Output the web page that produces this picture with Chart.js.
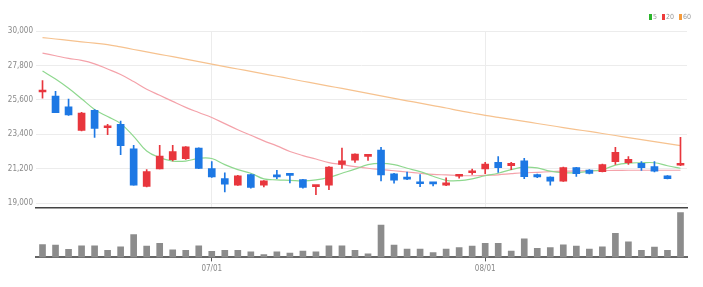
<!DOCTYPE html>
<html>
<head>
<meta charset="utf-8">
<script src="https://cdn.jsdelivr.net/npm/chart.js@4/dist/chart.umd.min.js"></script>
<style>
  body { margin: 0; background: #fff; }
  #wrap { position: relative; width: 703px; height: 287px; }
  #priceChart { position: absolute; left: 0; top: 0; }
  #volumeChart { position: absolute; left: 0; top: 207px; }
  #legend {
    position: absolute; top: 13px; left: 649px;
    font: 7px "Liberation Sans Narrow", "DejaVu Sans Condensed", "Liberation Sans", sans-serif;
    color: #999; white-space: nowrap;
  }
  #legend span.box { display: inline-block; width: 3px; height: 6px; margin: 0 1px 0 5px; vertical-align: -1px; }
  #legend span.box:first-child { margin-left: 0; }
</style>
</head>
<body>
<div id="wrap">
  <canvas id="priceChart" width="703" height="216"></canvas>
  <canvas id="volumeChart" width="703" height="80"></canvas>
  <div id="legend"><span class="box" style="background:#2bb52b"></span>5<span class="box" style="background:#ee3b3b"></span>20<span class="box" style="background:#f59a3a"></span>60</div>
</div>
<script>
//trading days (MM/DD)
const dates = [
  "06/14", "06/15", "06/16", "06/17", "06/20", "06/21", "06/22", "06/23", "06/24", "06/27",
  "06/28", "06/29", "06/30", "07/01", "07/04", "07/05", "07/06", "07/07", "07/08", "07/11",
  "07/12", "07/13", "07/14", "07/15", "07/18", "07/19", "07/20", "07/21", "07/22", "07/25",
  "07/26", "07/27", "07/28", "07/29", "08/01", "08/02", "08/03", "08/04", "08/05", "08/08",
  "08/09", "08/10", "08/11", "08/12", "08/16", "08/17", "08/18", "08/19", "08/22", "08/23"
];

//daily prices
const openPrices = [
  26100, 25840, 25150, 23640, 24935, 23820, 24030, 22470, 20060, 21180,
  21780, 21840, 22520, 21200, 20570, 20150, 20830, 20150, 20740, 20890,
  20510, 20050, 20150, 21480, 21740, 21990, 22390, 20880, 20660, 20270,
  20270, 20150, 20720, 20940, 21180, 21610, 21400, 21700, 20830, 20660,
  20400, 21270, 21120, 21010, 21650, 21580, 21540, 21330, 20750, 21420
];
const highPrices = [
  26830, 26140, 25645, 24800, 24980, 24030, 24240, 22690, 21150, 22690,
  22690, 22620, 22540, 21650, 20940, 20780, 20850, 20440, 21090, 20900,
  20520, 20110, 21340, 22520, 22150, 22120, 22560, 20900, 20980, 20830,
  20300, 20620, 20820, 21170, 21610, 21980, 21610, 21870, 20850, 20680,
  21300, 21290, 21150, 21500, 22560, 21980, 21650, 21650, 20760, 23210
];
const lowPrices = [
  25710, 24780, 24600, 23620, 23200, 23380, 22090, 20150, 20040, 21180,
  21700, 21800, 21200, 20650, 19710, 20130, 19950, 20040, 20570, 20290,
  19950, 19540, 19860, 21220, 21600, 21730, 20420, 20280, 20500, 20050,
  20100, 20120, 20600, 20830, 20890, 20960, 21140, 20570, 20620, 20150,
  20380, 20700, 20870, 20990, 21480, 21480, 21090, 21000, 20550, 21400
];
const closePrices = [
  26150, 24780, 24630, 24760, 23770, 23870, 22670, 20150, 21010, 22000,
  22300, 22600, 21220, 20680, 20210, 20750, 20010, 20420, 20680, 20770,
  20010, 20090, 21310, 21700, 22130, 22040, 20800, 20470, 20530, 20240,
  20230, 20300, 20760, 21070, 21500, 21270, 21550, 20690, 20680, 20400,
  21270, 20880, 20900, 21460, 22240, 21800, 21270, 21050, 20570, 21460
];

//moving averages
const ma5 = [
  27440, 26930, 26340, 25670, 24990, 24530, 24080, 23270, 22330, 21910,
  21690, 21690, 21860, 21850, 21460, 21140, 20910, 20550, 20490, 20460,
  20420, 20490, 20650, 20910, 21170, 21460, 21540, 21460, 21230, 21010,
  20720, 20460, 20440, 20550, 20750, 20910, 21140, 21300, 21250, 21040,
  20940, 20940, 21040, 21140, 21430, 21560, 21580, 21580, 21390, 21230
];
const ma20 = [
  28590, 28420, 28250, 28120, 27900, 27570, 27220, 26770, 26280, 25890,
  25500, 25120, 24790, 24470, 24080, 23690, 23340, 22980, 22660, 22300,
  22040, 21820, 21590, 21460, 21330, 21230, 21150, 21070, 20990, 20910,
  20840, 20800, 20760, 20750, 20780, 20810, 20880, 20940, 20970, 21010,
  21040, 21060, 21070, 21080, 21090, 21100, 21100, 21100, 21100, 21100
];
const ma60 = [
  29580, 29490, 29400, 29310, 29220, 29130, 28980, 28820, 28670, 28510,
  28360, 28200, 28040, 27880, 27720, 27570, 27420, 27260, 27110, 26950,
  26790, 26640, 26480, 26330, 26170, 26010, 25850, 25700, 25540, 25390,
  25230, 25080, 24910, 24760, 24610, 24480, 24350, 24220, 24090, 23960,
  23830, 23700, 23580, 23450, 23320, 23190, 23060, 22930, 22800, 22670
];

//volume
const volumes = [
  123000, 117000, 77000, 110000, 110000, 67000, 100000, 217000, 107000, 133000,
  73000, 67000, 110000, 57000, 67000, 67000, 53000, 27000, 53000, 40000,
  60000, 53000, 110000, 110000, 67000, 33000, 307000, 117000, 80000, 80000,
  47000, 80000, 93000, 107000, 133000, 133000, 60000, 177000, 87000, 93000,
  120000, 107000, 80000, 100000, 230000, 147000, 67000, 97000, 67000, 427000
];

//y axis ticks
const priceTicks = [19000, 21200, 23400, 25600, 27800, 30000];

const upColor = "#e8363d";
const downColor = "#1d78e4";
const fontFamily = '"Liberation Sans Narrow", "DejaVu Sans Condensed", "Liberation Sans", sans-serif';

//true when the day starts a new month
function isMonthStart(i) {
  return i > 0 && dates[i].slice(0, 2) !== dates[i - 1].slice(0, 2);
}

function buildCandles() {
  let bodies = [];
  let wicks = [];
  let colors = [];
  for (let i = 0; i < dates.length; i++) {
    bodies.push([openPrices[i], closePrices[i]]);
    wicks.push([lowPrices[i], highPrices[i]]);
    colors.push(closePrices[i] >= openPrices[i] ? upColor : downColor);
  }
  return { bodies, wicks, colors };
}

function maLine(label, data, color) {
  return {
    type: "line",
    label: label,
    data: data,
    borderColor: color,
    borderWidth: 1.2,
    pointRadius: 0,
    tension: 0.4,
    fill: false
  };
}

function loadPriceChart() {
  let candles = buildCandles();
  let ctx = document.getElementById("priceChart").getContext("2d");
  new Chart(ctx, {
    data: {
      labels: dates,
      datasets: [
        {
          type: "bar",
          label: "body",
          data: candles.bodies,
          backgroundColor: candles.colors,
          barThickness: 7,
          minBarLength: 2,
          grouped: false,
          order: 0
        },
        {
          type: "bar",
          label: "wick",
          data: candles.wicks,
          backgroundColor: candles.colors,
          barThickness: 1,
          grouped: false,
          order: 1
        },
        Object.assign(maLine("5", ma5, "#8fd88f"), { order: 2 }),
        Object.assign(maLine("20", ma20, "#f4a2aa"), { order: 3 }),
        Object.assign(maLine("60", ma60, "#f6c28f"), { order: 4 })
      ]
    },
    options: {
      responsive: false,
      animation: false,
      layout: { padding: { top: 31, right: 16, left: 0, bottom: 3 } },
      plugins: {
        legend: { display: false },
        tooltip: { enabled: false }
      },
      scales: {
        x: {
          ticks: { display: false },
          grid: {
            offset: false,
            drawTicks: false,
            color: c => (isMonthStart(c.index) ? "#ececec" : "rgba(0,0,0,0)")
          },
          border: { color: "#444", width: 1.5 }
        },
        y: {
          min: 18676,
          max: 30000,
          afterBuildTicks: axis => {
            axis.ticks = priceTicks.map(v => ({ value: v }));
          },
          afterFit: axis => {
            axis.width = 36;
          },
          grid: { color: "#ececec", drawTicks: false },
          border: { display: false },
          ticks: {
            padding: 3,
            color: "#888",
            font: { size: 8, family: fontFamily },
            callback: v => v.toLocaleString("en-US")
          }
        }
      }
    }
  });
}

function loadVolumeChart() {
  let ctx = document.getElementById("volumeChart").getContext("2d");
  new Chart(ctx, {
    type: "bar",
    data: {
      labels: dates,
      datasets: [
        {
          label: "volume",
          data: volumes,
          backgroundColor: "#8c8c8c",
          barThickness: 6
        }
      ]
    },
    options: {
      responsive: false,
      animation: false,
      layout: { padding: { top: 1, right: 16, left: 36, bottom: 10 } },
      plugins: {
        legend: { display: false },
        tooltip: { enabled: false }
      },
      scales: {
        x: {
          grid: {
            offset: false,
            drawOnChartArea: false,
            tickLength: 4,
            tickColor: c => (isMonthStart(c.index) ? "#555" : "rgba(0,0,0,0)")
          },
          border: { color: "#666", width: 2 },
          ticks: {
            autoSkip: false,
            maxRotation: 0,
            padding: 3,
            color: "#888",
            font: { size: 8, family: fontFamily },
            callback: (v, i) => (isMonthStart(i) ? dates[i] : "")
          }
        },
        y: { display: false, min: 0, max: 470000 }
      }
    }
  });
}

loadPriceChart();
loadVolumeChart();
</script>
</body>
</html>
